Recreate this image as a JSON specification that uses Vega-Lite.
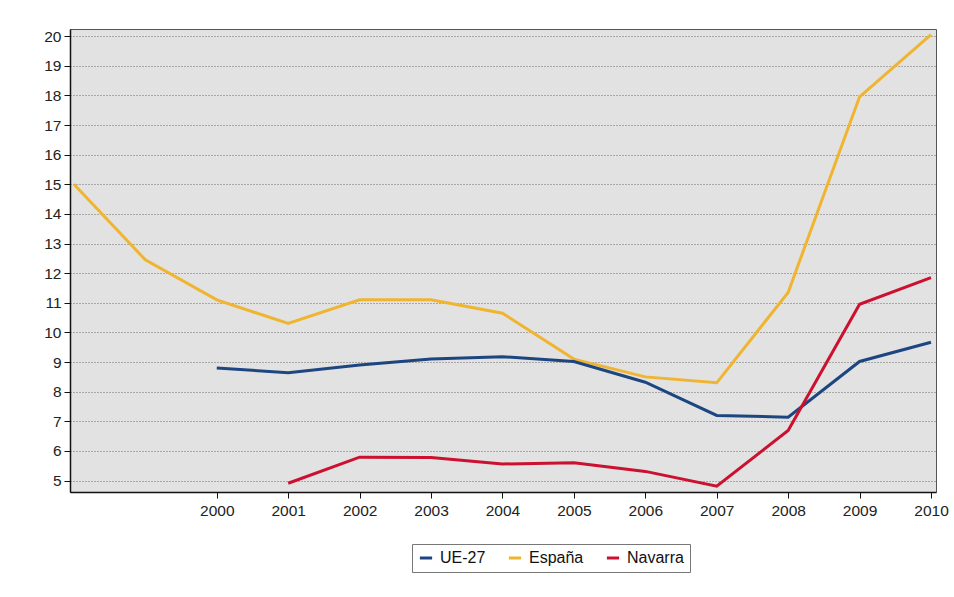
{
  "$schema": "https://vega.github.io/schema/vega-lite/v6.json",
  "autosize": {"type": "none"},
  "padding": {"left": 70, "top": 29, "right": 18, "bottom": 105},
  "width": 866,
  "height": 463,
  "background": "#ffffff",
  "config": {
    "view": {"fill": "#e2e2e2", "stroke": "#555555", "strokeWidth": 1},
    "font": "Liberation Sans"
  },
  "data": {
    "values": [
      {"year": 1998, "serie": "España", "value": 15.0},
      {"year": 1999, "serie": "España", "value": 12.45},
      {"year": 2000, "serie": "España", "value": 11.1},
      {"year": 2001, "serie": "España", "value": 10.3},
      {"year": 2002, "serie": "España", "value": 11.1},
      {"year": 2003, "serie": "España", "value": 11.1},
      {"year": 2004, "serie": "España", "value": 10.65},
      {"year": 2005, "serie": "España", "value": 9.1},
      {"year": 2006, "serie": "España", "value": 8.5},
      {"year": 2007, "serie": "España", "value": 8.3},
      {"year": 2008, "serie": "España", "value": 11.35},
      {"year": 2009, "serie": "España", "value": 17.95},
      {"year": 2010, "serie": "España", "value": 20.05},
      {"year": 2000, "serie": "UE-27", "value": 8.8},
      {"year": 2001, "serie": "UE-27", "value": 8.64},
      {"year": 2002, "serie": "UE-27", "value": 8.9},
      {"year": 2003, "serie": "UE-27", "value": 9.1},
      {"year": 2004, "serie": "UE-27", "value": 9.18},
      {"year": 2005, "serie": "UE-27", "value": 9.02},
      {"year": 2006, "serie": "UE-27", "value": 8.32},
      {"year": 2007, "serie": "UE-27", "value": 7.2},
      {"year": 2008, "serie": "UE-27", "value": 7.14},
      {"year": 2009, "serie": "UE-27", "value": 9.02},
      {"year": 2010, "serie": "UE-27", "value": 9.67},
      {"year": 2001, "serie": "Navarra", "value": 4.91},
      {"year": 2002, "serie": "Navarra", "value": 5.79},
      {"year": 2003, "serie": "Navarra", "value": 5.78},
      {"year": 2004, "serie": "Navarra", "value": 5.56},
      {"year": 2005, "serie": "Navarra", "value": 5.6},
      {"year": 2006, "serie": "Navarra", "value": 5.31},
      {"year": 2007, "serie": "Navarra", "value": 4.81},
      {"year": 2008, "serie": "Navarra", "value": 6.69},
      {"year": 2009, "serie": "Navarra", "value": 10.95},
      {"year": 2010, "serie": "Navarra", "value": 11.85}
    ]
  },
  "mark": {"type": "line", "strokeWidth": 3, "clip": true},
  "encoding": {
    "x": {
      "field": "year",
      "type": "quantitative",
      "scale": {"domain": [1997.945, 2010.07], "nice": false, "zero": false},
      "axis": {
        "title": null,
        "values": [2000, 2001, 2002, 2003, 2004, 2005, 2006, 2007, 2008, 2009, 2010],
        "format": "d",
        "grid": false,
        "domainColor": "#111111",
        "domainWidth": 1.5,
        "tickColor": "#111111",
        "tickSize": 6,
        "labelFontSize": 15.5,
        "labelColor": "#222222",
        "labelPadding": 5,
        "labelFlush": false,
        "labelOverlap": false
      }
    },
    "y": {
      "field": "value",
      "type": "quantitative",
      "scale": {"domain": [4.615, 20.24], "nice": false, "zero": false},
      "axis": {
        "title": null,
        "values": [5, 6, 7, 8, 9, 10, 11, 12, 13, 14, 15, 16, 17, 18, 19, 20],
        "grid": true,
        "gridColor": "#6e6e6e",
        "gridDash": [1, 2],
        "gridWidth": 1,
        "domainColor": "#111111",
        "domainWidth": 1.5,
        "tickColor": "#111111",
        "tickSize": 6,
        "labelFontSize": 15.5,
        "labelColor": "#222222",
        "labelPadding": 3,
        "labelFlush": false,
        "labelOverlap": false
      }
    },
    "color": {
      "field": "serie",
      "type": "nominal",
      "scale": {
        "domain": ["UE-27", "España", "Navarra"],
        "range": ["#1d4681", "#f0b530", "#cc1030"]
      },
      "legend": {
        "title": null,
        "orient": "none",
        "direction": "horizontal",
        "legendX": 342,
        "legendY": 515,
        "symbolType": "stroke",
        "symbolSize": 150,
        "symbolStrokeWidth": 3,
        "labelFontSize": 16,
        "labelColor": "#111111",
        "columnPadding": 16,
        "padding": 6,
        "strokeColor": "#777777",
        "fillColor": "#ffffff",
        "labelOffset": 6
      }
    }
  }
}
